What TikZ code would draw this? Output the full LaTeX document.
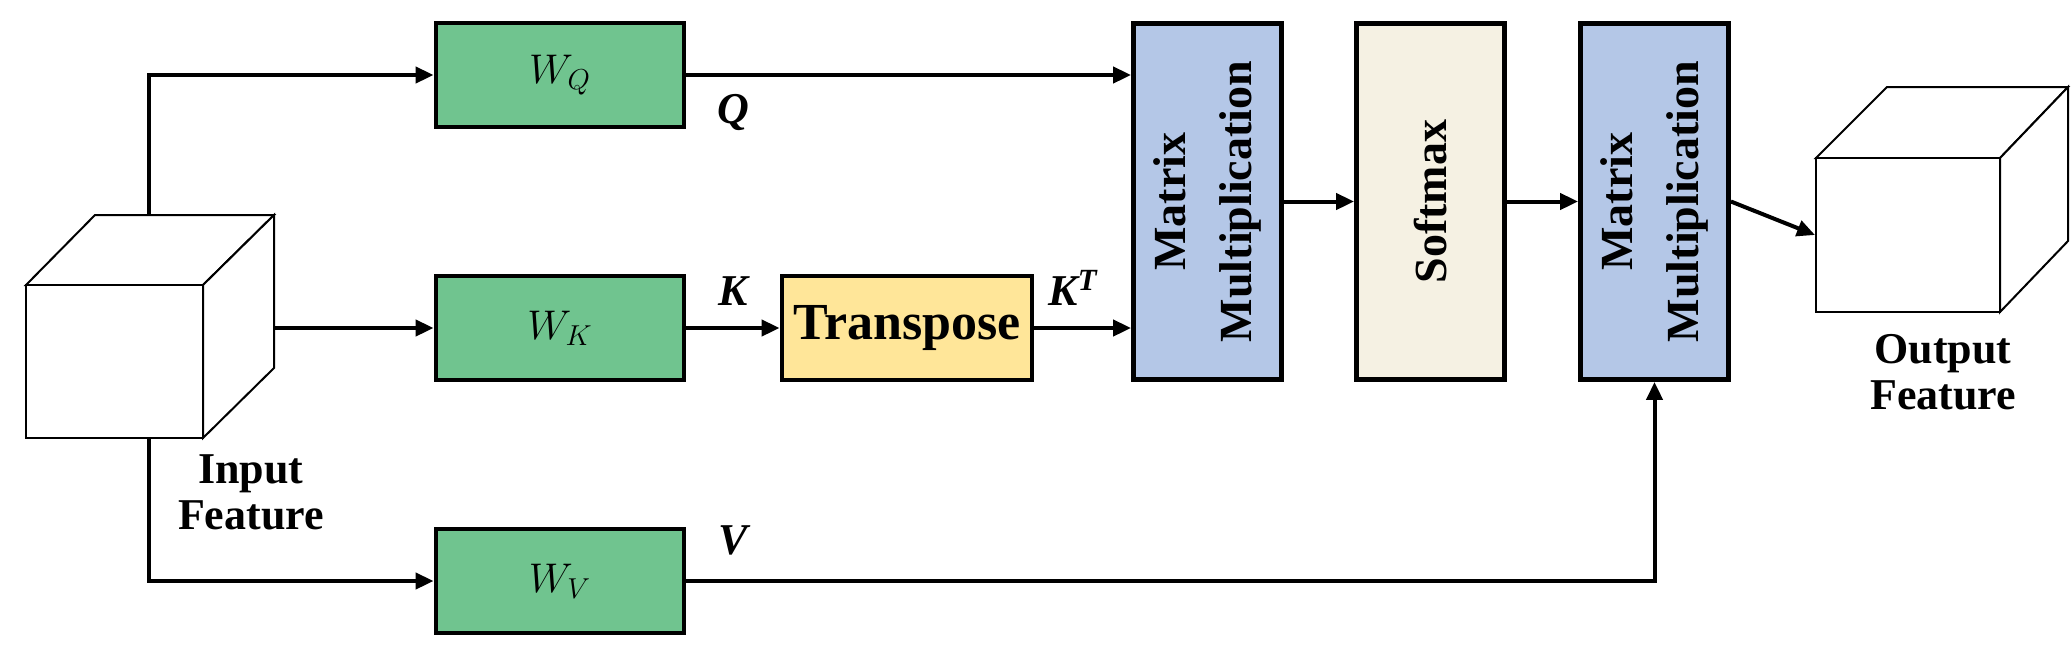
\documentclass[tikz,border=0pt]{standalone}
\usepackage{fontspec}
\setmainfont{Liberation Serif}
\usetikzlibrary{arrows.meta}
\definecolor{wgreen}{HTML}{70C48F}
\definecolor{tyellow}{HTML}{FFE699}
\definecolor{sbeige}{HTML}{F5F1E3}
\definecolor{mblue}{HTML}{B4C7E7}
\begin{document}
\begin{tikzpicture}[x=0.5pt,y=-0.5pt,
  box/.style={draw,line width=2.4pt,inner sep=0pt},
  wbox/.style={box,fill=wgreen,minimum width=124pt,minimum height=52pt,font=\fontsize{22}{24}\selectfont},
  vbox/.style={box,minimum width=74pt,minimum height=178pt},
  vtext/.style={rotate=90,align=center,font=\bfseries\fontsize{23}{33}\selectfont},
  face/.style={draw,line width=1pt,fill=white},
  lbl/.style={font=\bfseries\fontsize{22}{23}\selectfont,align=center},
  var/.style={font=\bfseries\itshape\fontsize{22}{24}\selectfont},
  conn/.style={line width=2pt,-{Triangle[length=9pt,width=8pt]}}]
\useasboundingbox (0,0) rectangle (2071,644);
% input cube
\draw[face] (26,285) -- (95,215) -- (274,215) -- (203,285) -- cycle;
\draw[face] (203,285) -- (274,215) -- (274,368) -- (203,438) -- cycle;
\node[face,minimum width=88.5pt,minimum height=76.5pt,inner sep=0pt] (in) at (114.5,361.5) {};
\coordinate (inT) at (149,215);
\coordinate (inB) at (149,438);
\coordinate (inR) at (274,328);
\node[lbl] at (251,492) {Input\\Feature};
% weight boxes
\node[wbox] (wq) at (560,75) {$W_Q$};
\node[wbox] (wk) at (560,328) {$W_K$};
\node[wbox] (wv) at (560,581) {$W_V$};
\node[box,fill=tyellow,minimum width=125pt,minimum height=52pt,font=\bfseries\fontsize{26}{28}\selectfont] (tr) at (907,328) {Transpose};
% vertical boxes
\node[vbox,fill=mblue] (mm1) at (1207.5,201.5) {};
\node[vtext] at (mm1) {Matrix\\Multiplication};
\node[vbox,fill=sbeige] (sm) at (1430.5,201.5) {};
\node[vtext] at (sm) {Softmax};
\node[vbox,fill=mblue] (mm2) at (1654.5,201.5) {};
\node[vtext] at (mm2) {Matrix\\Multiplication};
% output cube
\draw[face] (1816,158) -- (1887,87) -- (2068,87) -- (2000,158) -- cycle;
\draw[face] (2000,158) -- (2068,87) -- (2068,241) -- (2000,312) -- cycle;
\node[face,minimum width=92pt,minimum height=77pt,inner sep=0pt] (out) at (1908,235) {};
\node[lbl] at (1943,372) {Output\\Feature};
% connectors
\draw[conn] (inT) |- (wq.west);
\draw[conn] (inR) -- (wk.west);
\draw[conn] (inB) |- (wv.west);
\draw[conn] (wq.east) -- (wq.east -| mm1.west);
\draw[conn] (wk.east) -- (tr.west);
\draw[conn] (tr.east) -- (tr.east -| mm1.west);
\draw[conn] (wv.east) -| (mm2.south);
\draw[conn] (mm1.east) -- (sm.west);
\draw[conn] (sm.east) -- (mm2.west);
\draw[conn] (mm2.east) -- (out.west);
% labels
\node[var] at (733,112) {Q};
\node[var] at (733,291) {K};
\node[var] at (733,540) {V};
\node[var] at (1073,288) {K\textsuperscript{T}};
\end{tikzpicture}
\end{document}
